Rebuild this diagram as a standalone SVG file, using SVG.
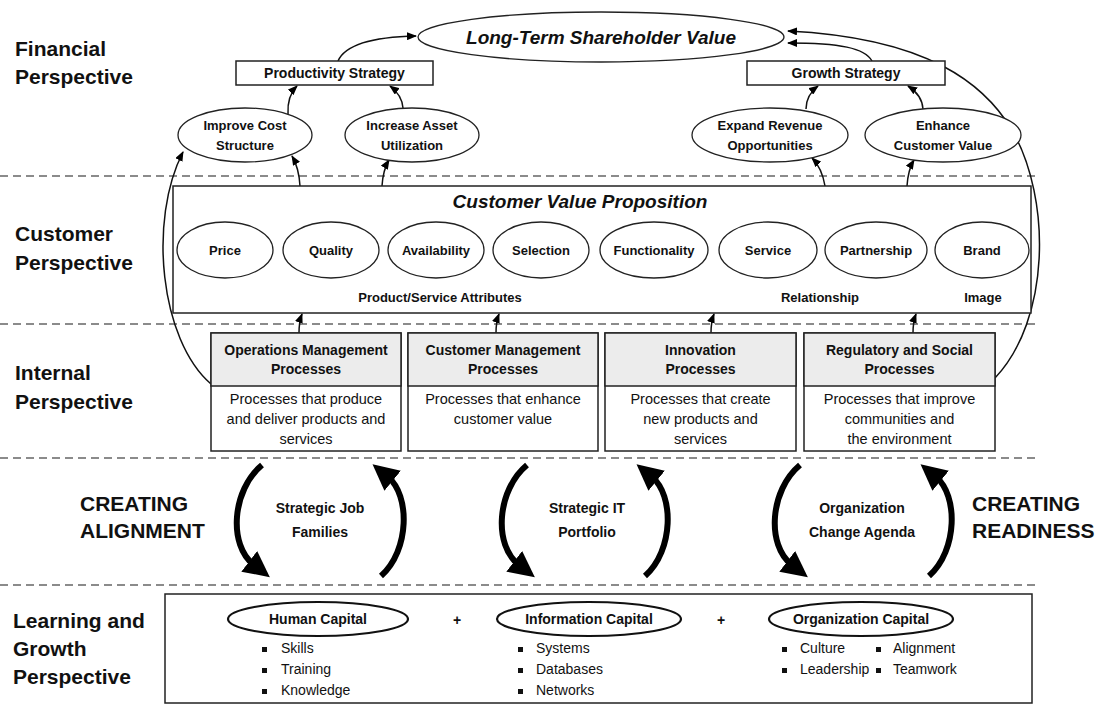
<svg xmlns="http://www.w3.org/2000/svg" width="1109" height="705" viewBox="0 0 1109 705">
<defs>
<marker id="ah" markerUnits="userSpaceOnUse" markerWidth="10" markerHeight="8" viewBox="0 0 10 8" refX="9" refY="4" orient="auto"><path d="M0,0 L10,4 L0,8 z" fill="#000"/></marker>
<marker id="big" markerUnits="userSpaceOnUse" markerWidth="26" markerHeight="26" viewBox="0 0 26 26" refX="6" refY="13" orient="auto"><path d="M0,0 L26,13 L0,26 z" fill="#000"/></marker>
<style>
text{font-family:"Liberation Sans",Arial,sans-serif;fill:#111}
.lab{font-size:21px;font-weight:bold}
.b13{font-size:13px;font-weight:bold;text-anchor:middle}
.b14{font-size:14px;font-weight:bold;text-anchor:middle}
.bi{font-size:19px;font-weight:bold;font-style:italic;text-anchor:middle}
.body{font-size:14.5px;text-anchor:middle}
.bul{font-size:14px}
.box{fill:#fff;stroke:#222;stroke-width:1.5}
.hdr{fill:#ececec;stroke:#222;stroke-width:1.5}
.ell{fill:#fff;stroke:#222;stroke-width:1.3}
.ell2{fill:#fff;stroke:#111;stroke-width:2.2}
.dash{stroke:#666;stroke-width:1.5;stroke-dasharray:8 5;fill:none}
.con{fill:none;stroke:#111;stroke-width:1.5}
.bigc{fill:none;stroke:#000;stroke-width:6}
</style>
</defs>
<rect width="1109" height="705" fill="#fff"/>

<g id="dividers">
<line class="dash" x1="0" y1="176" x2="1040" y2="176"/>
<line class="dash" x1="0" y1="324" x2="1040" y2="324"/>
<line class="dash" x1="0" y1="458" x2="1040" y2="458"/>
<line class="dash" x1="0" y1="585" x2="1040" y2="585"/>
</g>

<g id="perspective-labels">
<text class="lab" x="15" y="56">Financial</text>
<text class="lab" x="15" y="84">Perspective</text>
<text class="lab" x="15" y="241">Customer</text>
<text class="lab" x="15" y="270">Perspective</text>
<text class="lab" x="15" y="380">Internal</text>
<text class="lab" x="15" y="409">Perspective</text>
<text class="lab" x="13" y="628">Learning and</text>
<text class="lab" x="13" y="656">Growth</text>
<text class="lab" x="13" y="684">Perspective</text>
</g>

<g id="connectors">
<path class="con" d="M338,61 C345,45 370,37 416,36" marker-end="url(#ah)"/>
<path class="con" d="M872,61 C865,48 840,43 788,43" marker-end="url(#ah)"/>
<path class="con" d="M995,378 C1050,320 1052,200 1012,130 C985,85 930,38 788,31" marker-end="url(#ah)"/>
<path class="con" d="M211,384 C160,340 148,220 183,152" marker-end="url(#ah)"/>
<path class="con" d="M288,114 Q287,96 297,86" marker-end="url(#ah)"/>
<path class="con" d="M403,108 Q402,95 390,86" marker-end="url(#ah)"/>
<path class="con" d="M806,109 Q806,95 818,86" marker-end="url(#ah)"/>
<path class="con" d="M923,109 Q922,95 908,86" marker-end="url(#ah)"/>
<path class="con" d="M300,186 Q299,168 292,156" marker-end="url(#ah)"/>
<path class="con" d="M382,186 Q383,170 389,160" marker-end="url(#ah)"/>
<path class="con" d="M825,186 Q822,168 812,158" marker-end="url(#ah)"/>
<path class="con" d="M907,186 Q908,170 914,160" marker-end="url(#ah)"/>
<path class="con" d="M299,333 Q299,322 302,314" marker-end="url(#ah)"/>
<path class="con" d="M496,333 Q496,322 499,314" marker-end="url(#ah)"/>
<path class="con" d="M711,333 Q711,322 714,314" marker-end="url(#ah)"/>
<path class="con" d="M913,333 Q913,322 916,314" marker-end="url(#ah)"/>
<path class="bigc" d="M262,465 C232,490 228,545 254,565" marker-end="url(#big)"/>
<path class="bigc" d="M381,576 C410,550 410,495 388,477" marker-end="url(#big)"/>
<path class="bigc" d="M527,465 C497,490 493,545 519,565" marker-end="url(#big)"/>
<path class="bigc" d="M645,576 C674,550 674,495 652,477" marker-end="url(#big)"/>
<path class="bigc" d="M800,465 C770,490 766,545 792,565" marker-end="url(#big)"/>
<path class="bigc" d="M929,576 C958,550 958,495 936,477" marker-end="url(#big)"/>
</g>

<g id="long-term-value">
<ellipse class="ell" cx="601" cy="37" rx="183" ry="25"/>
<text class="bi" x="601" y="44">Long-Term Shareholder Value</text>
</g>
<g id="productivity-strategy">
<rect class="box" x="236" y="61" width="197" height="24"/>
<text class="b14" x="334.5" y="78">Productivity Strategy</text>
</g>
<g id="growth-strategy">
<rect class="box" x="747" y="61" width="198" height="24"/>
<text class="b14" x="846" y="78">Growth Strategy</text>
</g>
<g id="improve-cost">
<ellipse class="ell" cx="245" cy="135" rx="67" ry="27"/>
<text class="b13" x="245" y="130">Improve Cost</text>
<text class="b13" x="245" y="150">Structure</text>
</g>
<g id="increase-asset">
<ellipse class="ell" cx="412" cy="135" rx="67" ry="27"/>
<text class="b13" x="412" y="130">Increase Asset</text>
<text class="b13" x="412" y="150">Utilization</text>
</g>
<g id="expand-revenue">
<ellipse class="ell" cx="770" cy="135" rx="78" ry="27"/>
<text class="b13" x="770" y="130">Expand Revenue</text>
<text class="b13" x="770" y="150">Opportunities</text>
</g>
<g id="enhance-value">
<ellipse class="ell" cx="943" cy="135" rx="78" ry="27"/>
<text class="b13" x="943" y="130">Enhance</text>
<text class="b13" x="943" y="150">Customer Value</text>
</g>

<g id="customer-value-proposition">
<rect class="box" x="173" y="186" width="858" height="127"/>
<text class="bi" x="580" y="208">Customer Value Proposition</text>
<text class="b13" x="440" y="302">Product/Service Attributes</text>
<text class="b13" x="820" y="302">Relationship</text>
<text class="b13" x="983" y="302">Image</text>
</g>
<g id="price"><ellipse class="ell" cx="225" cy="250" rx="48" ry="28"/><text class="b13" x="225" y="255">Price</text></g>
<g id="quality"><ellipse class="ell" cx="331" cy="250" rx="48" ry="28"/><text class="b13" x="331" y="255">Quality</text></g>
<g id="availability"><ellipse class="ell" cx="436" cy="250" rx="48" ry="28"/><text class="b13" x="436" y="255">Availability</text></g>
<g id="selection"><ellipse class="ell" cx="541" cy="250" rx="48" ry="28"/><text class="b13" x="541" y="255">Selection</text></g>
<g id="functionality"><ellipse class="ell" cx="654" cy="250" rx="54" ry="28"/><text class="b13" x="654" y="255">Functionality</text></g>
<g id="service"><ellipse class="ell" cx="768" cy="250" rx="49" ry="28"/><text class="b13" x="768" y="255">Service</text></g>
<g id="partnership"><ellipse class="ell" cx="876" cy="250" rx="51" ry="28"/><text class="b13" x="876" y="255">Partnership</text></g>
<g id="brand"><ellipse class="ell" cx="982" cy="250" rx="47" ry="28"/><text class="b13" x="982" y="255">Brand</text></g>

<g id="operations-management">
<rect class="box" x="211" y="333" width="190" height="118"/>
<rect class="hdr" x="211" y="333" width="190" height="53"/>
<text class="b14" x="306" y="355">Operations Management</text>
<text class="b14" x="306" y="374">Processes</text>
<text class="body" x="306" y="404">Processes that produce</text>
<text class="body" x="306" y="424">and deliver products and</text>
<text class="body" x="306" y="444">services</text>
</g>
<g id="customer-management">
<rect class="box" x="408" y="333" width="190" height="118"/>
<rect class="hdr" x="408" y="333" width="190" height="53"/>
<text class="b14" x="503" y="355">Customer Management</text>
<text class="b14" x="503" y="374">Processes</text>
<text class="body" x="503" y="404">Processes that enhance</text>
<text class="body" x="503" y="424">customer value</text>
</g>
<g id="innovation">
<rect class="box" x="605" y="333" width="191" height="118"/>
<rect class="hdr" x="605" y="333" width="191" height="53"/>
<text class="b14" x="700.5" y="355">Innovation</text>
<text class="b14" x="700.5" y="374">Processes</text>
<text class="body" x="700.5" y="404">Processes that create</text>
<text class="body" x="700.5" y="424">new products and</text>
<text class="body" x="700.5" y="444">services</text>
</g>
<g id="regulatory-social">
<rect class="box" x="804" y="333" width="191" height="118"/>
<rect class="hdr" x="804" y="333" width="191" height="53"/>
<text class="b14" x="899.5" y="355">Regulatory and Social</text>
<text class="b14" x="899.5" y="374">Processes</text>
<text class="body" x="899.5" y="404">Processes that improve</text>
<text class="body" x="899.5" y="424">communities and</text>
<text class="body" x="899.5" y="444">the environment</text>
</g>

<g id="creating-alignment">
<text class="lab" x="80" y="511">CREATING</text>
<text class="lab" x="80" y="538">ALIGNMENT</text>
</g>
<g id="creating-readiness">
<text class="lab" x="972" y="511">CREATING</text>
<text class="lab" x="972" y="538">READINESS</text>
</g>
<g id="strategic-job-families">
<text class="b14" x="320" y="513">Strategic Job</text>
<text class="b14" x="320" y="537">Families</text>
</g>
<g id="strategic-it-portfolio">
<text class="b14" x="587" y="513">Strategic IT</text>
<text class="b14" x="587" y="537">Portfolio</text>
</g>
<g id="organization-change-agenda">
<text class="b14" x="862" y="513">Organization</text>
<text class="b14" x="862" y="537">Change Agenda</text>
</g>

<g id="learning-growth">
<rect class="box" x="165" y="594" width="867" height="109" stroke-width="2"/>
<text class="b14" x="457" y="625">+</text>
<text class="b14" x="721" y="625">+</text>
</g>
<g id="human-capital">
<ellipse class="ell2" cx="318" cy="619" rx="90" ry="17"/>
<text class="b14" x="318" y="624">Human Capital</text>
<rect x="262" y="647" width="5" height="5" fill="#111"/><text class="bul" x="281" y="653">Skills</text>
<rect x="262" y="668" width="5" height="5" fill="#111"/><text class="bul" x="281" y="674">Training</text>
<rect x="262" y="689" width="5" height="5" fill="#111"/><text class="bul" x="281" y="695">Knowledge</text>
</g>
<g id="information-capital">
<ellipse class="ell2" cx="589" cy="619" rx="92" ry="17"/>
<text class="b14" x="589" y="624">Information Capital</text>
<rect x="518" y="647" width="5" height="5" fill="#111"/><text class="bul" x="536" y="653">Systems</text>
<rect x="518" y="668" width="5" height="5" fill="#111"/><text class="bul" x="536" y="674">Databases</text>
<rect x="518" y="689" width="5" height="5" fill="#111"/><text class="bul" x="536" y="695">Networks</text>
</g>
<g id="organization-capital">
<ellipse class="ell2" cx="861" cy="619" rx="92" ry="17"/>
<text class="b14" x="861" y="624">Organization Capital</text>
<rect x="782" y="647" width="5" height="5" fill="#111"/><text class="bul" x="800" y="653">Culture</text>
<rect x="782" y="668" width="5" height="5" fill="#111"/><text class="bul" x="800" y="674">Leadership</text>
<rect x="876" y="647" width="5" height="5" fill="#111"/><text class="bul" x="893" y="653">Alignment</text>
<rect x="876" y="668" width="5" height="5" fill="#111"/><text class="bul" x="893" y="674">Teamwork</text>
</g>
</svg>
